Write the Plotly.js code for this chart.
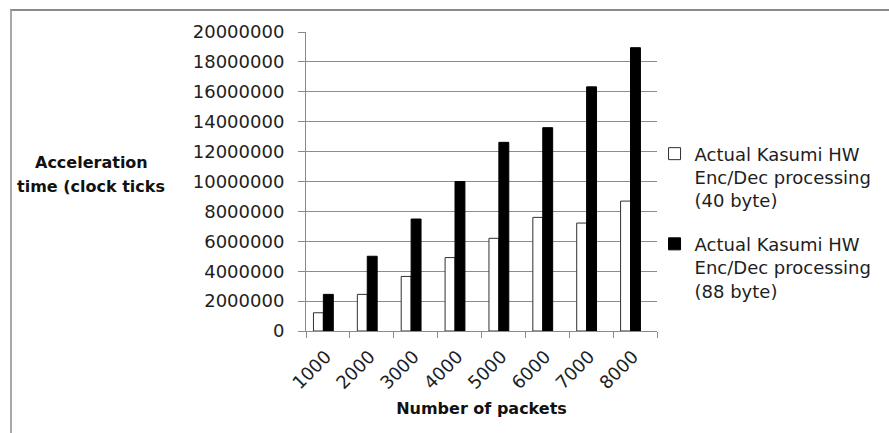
<!DOCTYPE html>
<html>
<head>
<meta charset="utf-8">
<script src="https://cdn.plot.ly/plotly-3.0.1.min.js"></script>
<style>
  html, body { margin: 0; padding: 0; background: #fff; }
  #wrap { position: relative; width: 889px; height: 433px; overflow: hidden; }
  #chart { position: absolute; left: 0; top: 0; width: 889px; height: 433px; }
  #frame { position: absolute; left: 10px; top: 9px; width: 879px; height: 424px;
           border-top: 2px solid #8a8a8a; border-left: 2px solid #a8a8a8;
           box-sizing: border-box; pointer-events: none; }
</style>
</head>
<body>
<div id="wrap">
  <div id="chart"></div>
  <div id="frame"></div>
</div>
<script>
// Packet counts on the x axis
const packets = ['1000', '2000', '3000', '4000', '5000', '6000', '7000', '8000'];
// Acceleration time in clock ticks, 40-byte packets
const ticks40 = [1220000, 2450000, 3650000, 4910000, 6200000, 7600000, 7220000, 8690000];
// Acceleration time in clock ticks, 88-byte packets
const ticks88 = [2450000, 5000000, 7490000, 10000000, 12620000, 13600000, 16330000, 18950000];

const name40 = 'Actual Kasumi HW<br>Enc/Dec processing<br>(40 byte)';
const name88 = 'Actual Kasumi HW<br>Enc/Dec processing<br>(88 byte)';

const baseFont = { family: 'DejaVu Sans, sans-serif', size: 18, color: '#1e1e1e' };
const boldFont = { family: 'DejaVu Sans, sans-serif', size: 16, color: '#111', weight: 'bold' };

const traces = [
  {
    type: 'bar', x: packets, y: ticks40, name: name40, legendgroup: 'a',
    width: 0.226, offset: -0.33,
    marker: { color: '#ffffff', line: { color: '#303030', width: 1 } }
  },
  {
    type: 'bar', x: packets, y: ticks88, name: name88, legendgroup: 'b',
    width: 0.226, offset: -0.104,
    marker: { color: '#000000', line: { color: '#000000', width: 1 } }
  }
];

const layout = {
  width: 889, height: 433,
  margin: { l: 306, r: 228, t: 32, b: 102 },
  paper_bgcolor: '#ffffff', plot_bgcolor: '#ffffff',
  font: baseFont,
  showlegend: true,
  legend: {
    x: 0.993, xanchor: 'left', y: 0.654, yanchor: 'top',
    valign: 'top', traceorder: 'grouped', tracegroupgap: 17,
    font: baseFont, bgcolor: 'rgba(0,0,0,0)'
  },
  xaxis: {
    type: 'category', range: [-0.5, 7.5],
    tickson: 'boundaries', ticks: 'outside', ticklen: 6, tickcolor: '#8a8a8a',
    tickangle: -45, tickfont: baseFont, ticklabelstandoff: 7, ticklabelshift: -2,
    showline: true, linecolor: '#8a8a8a', linewidth: 1,
    showgrid: false, zeroline: false,
    title: { text: 'Number of packets', font: boldFont, standoff: 10 }
  },
  yaxis: {
    range: [0, 20000000], dtick: 2000000, tickformat: 'd',
    ticks: 'outside', ticklen: 7, tickcolor: '#8a8a8a', ticklabelstandoff: 10,
    tickfont: baseFont,
    showline: true, linecolor: '#8a8a8a', linewidth: 1,
    showgrid: true, gridcolor: '#8c8c8c', gridwidth: 1, zeroline: false
  },
  annotations: [
    {
      xref: 'paper', yref: 'paper', x: -0.6112, y: 0.562, xanchor: 'center', yanchor: 'middle',
      text: 'Acceleration', showarrow: false, font: boldFont
    },
    {
      xref: 'paper', yref: 'paper', x: -0.6112, y: 0.482, xanchor: 'center', yanchor: 'middle',
      text: 'time (clock ticks', showarrow: false, font: boldFont
    }
  ]
};

Plotly.newPlot('chart', traces, layout, { staticPlot: true, displayModeBar: false });
</script>
</body>
</html>
